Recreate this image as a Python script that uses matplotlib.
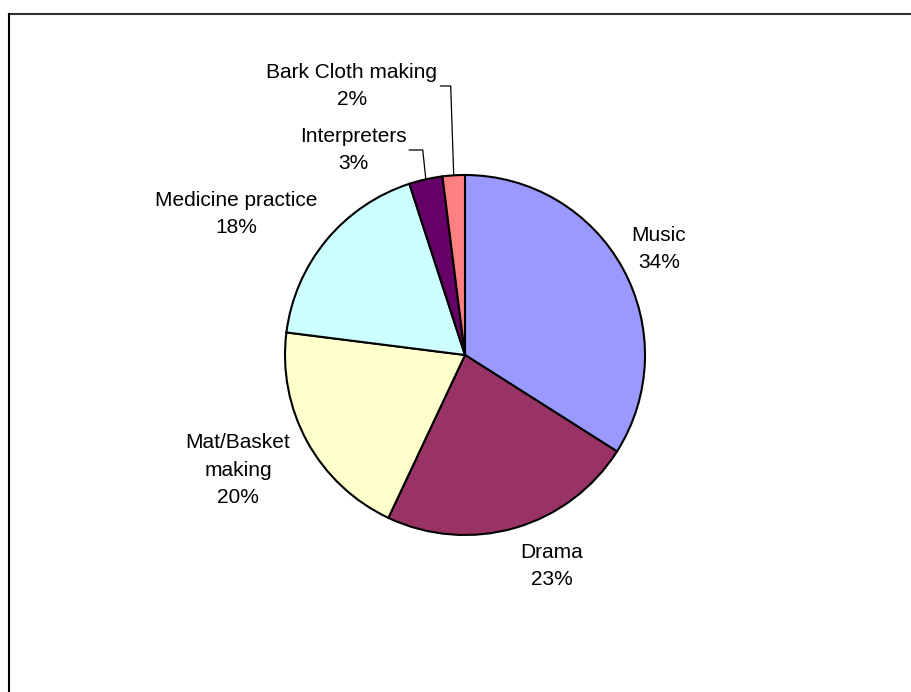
import matplotlib.pyplot as plt
import numpy as np

# dados do gráfico
categorias = ['Music', 'Drama', 'Mat/Basket\nmaking', 'Medicine practice', 'Interpreters', 'Bark Cloth making']
valores = [34, 23, 20, 18, 3, 2]
cores = ['#9999FF', '#993366', '#FFFFCC', '#CCFFFF', '#660066', '#FF8080']

# posição dos rótulos (centro do texto, em pixels da figura)
pos_rotulos = [(659, 443), (552, 126), (238, 222), (236, 478), (353, 542), (352, 606)]
com_linha = [False, False, False, False, True, True]

W, H = 912, 692
fig = plt.figure(figsize=(W / 100, H / 100), dpi=100)
ax = fig.add_axes([0, 0, 1, 1])

centro = (465, 337)
raio = 180
wedges, _ = ax.pie(valores, colors=cores, startangle=90, counterclock=False,
                   center=centro, radius=raio, frame=True,
                   wedgeprops=dict(edgecolor='black', linewidth=1.5))
ax.set_xlim(0, W)
ax.set_ylim(0, H)
ax.set_aspect('equal')
ax.axis('off')

fonte = dict(family=['Liberation Sans', 'DejaVu Sans'], fontsize=15)
fig.canvas.draw()
renderer = fig.canvas.get_renderer()
for w, cat, v, (lx, ly), linha in zip(wedges, categorias, valores, pos_rotulos, com_linha):
    ax.text(lx, ly, f'{cat}\n{v}%', ha='center', va='center',
            linespacing=1.55, **fonte)
    if linha:
        ang = np.deg2rad((w.theta1 + w.theta2) / 2)
        ex = centro[0] + raio * np.cos(ang)
        ey = centro[1] + raio * np.sin(ang)
        # largura da primeira linha do rótulo
        t = ax.text(lx, ly, cat, ha='center', alpha=0, **fonte)
        bb = t.get_window_extent(renderer).transformed(ax.transData.inverted())
        x0 = bb.x1 + 3
        ax.plot([x0, ex - 3, ex], [ly, ly, ey + 1], color='black', linewidth=0.9)

# borda superior e esquerda
fig.add_artist(plt.Line2D([9 / W, 1], [1 - 14 / H, 1 - 14 / H], color='#333333', linewidth=1.5))
fig.add_artist(plt.Line2D([9 / W, 9 / W], [0, 1 - 14 / H], color='black', linewidth=1.5))

fig.savefig('out.png', dpi=100)
